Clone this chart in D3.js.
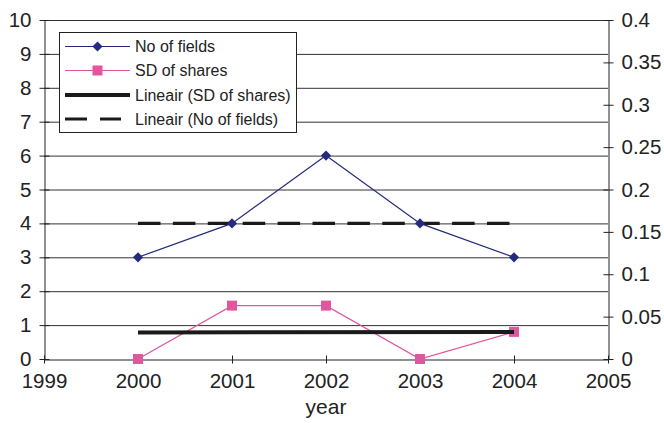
<!DOCTYPE html>
<html>
<head>
<meta charset="utf-8">
<script src="https://cdn.jsdelivr.net/npm/d3@7"></script>
<style>
  html, body { margin: 0; padding: 0; background: #fff; }
  svg { display: block; font-family: "Liberation Sans", Arial, sans-serif; }
</style>
</head>
<body>
<svg id="chart" width="664" height="423"></svg>
<script>
// Years on the x axis
const years = [2000, 2001, 2002, 2003, 2004];
// Number of fields per year (left axis)
const noOfFields = [3, 4, 6, 4, 3];
// Standard deviation of shares per year (right axis)
const sdOfShares = [0, 0.063, 0.063, 0, 0.032];
// Tick values
const xTicks = [1999, 2000, 2001, 2002, 2003, 2004, 2005];
const leftTicks = [0, 1, 2, 3, 4, 5, 6, 7, 8, 9, 10];
const rightTicks = [0, 0.05, 0.1, 0.15, 0.2, 0.25, 0.3, 0.35, 0.4];
// Legend entries
const legendLabels = ["No of fields", "SD of shares", "Lineair (SD of shares)", "Lineair (No of fields)"];

const svg = d3.select("#chart");
const m = { left: 44, right: 608, top: 20, bottom: 359 };

const x = d3.scaleLinear().domain([1999, 2005]).range([m.left, m.right]);
const yL = d3.scaleLinear().domain([0, 10]).range([m.bottom, m.top]);
const yR = d3.scaleLinear().domain([0, 0.4]).range([m.bottom, m.top]);

// Least-squares linear trend
function linFit(xs, ys) {
  const mx = d3.mean(xs), my = d3.mean(ys);
  let sxy = 0, sxx = 0;
  xs.forEach((xv, i) => { sxy += (xv - mx) * (ys[i] - my); sxx += (xv - mx) ** 2; });
  const b = sxy / sxx, a = my - b * mx;
  return xv => a + b * xv;
}

const navy = "#242a7c";
const pink = "#e0569f";
const ink = "#222";

// Horizontal gridlines
svg.append("g").selectAll("line").data(leftTicks.filter(d => d > 0)).join("line")
  .attr("x1", m.left).attr("x2", m.right)
  .attr("y1", d => yL(d) + 0.5).attr("y2", d => yL(d) + 0.5)
  .attr("stroke", "#333").attr("stroke-width", 1);

// Axes
const tickStyle = g => {
  g.select(".domain").attr("stroke", ink);
  g.selectAll(".tick line").attr("stroke", ink);
  g.selectAll(".tick text").attr("fill", ink).attr("font-size", "20.5px");
};

svg.append("g")
  .attr("transform", `translate(${m.left + 0.5},0)`)
  .call(d3.axisLeft(yL).tickValues(leftTicks).tickFormat(d3.format("d")).tickSizeInner(5).tickSizeOuter(0).tickPadding(8))
  .call(tickStyle);

svg.append("g")
  .attr("transform", `translate(${m.right + 0.5},0)`)
  .call(d3.axisRight(yR).tickValues(rightTicks).tickFormat(d => d === 0 ? "0" : String(+d.toFixed(2))).tickSizeInner(5).tickSizeOuter(0).tickPadding(8))
  .call(tickStyle);

svg.append("g")
  .attr("transform", `translate(0,${m.bottom + 0.5})`)
  .call(d3.axisBottom(x).tickValues(xTicks).tickFormat(d3.format("d")).tickSizeInner(4).tickSizeOuter(0).tickPadding(10))
  .call(tickStyle);

// Ticks crossing the axis lines on both sides
svg.selectAll(".tick line").each(function () {
  const l = d3.select(this);
  const x2 = +l.attr("x2") || 0, y2 = +l.attr("y2") || 0;
  l.attr("x1", -x2).attr("y1", -y2);
});

svg.append("text")
  .attr("x", 326).attr("y", 414)
  .attr("text-anchor", "middle").attr("font-size", "21px").attr("fill", ink)
  .text("year");

// Trend lines
const fitFields = linFit(years, noOfFields);
const fitSD = linFit(years, sdOfShares);
const x0 = years[0], x1 = years[years.length - 1];

svg.append("line")
  .attr("x1", x(x0)).attr("x2", x(x1))
  .attr("y1", yL(fitFields(x0))).attr("y2", yL(fitFields(x1)))
  .attr("stroke", "#1a1a1a").attr("stroke-width", 3.2).attr("stroke-dasharray", "22.5,12.4");

// Series: No of fields
svg.append("path")
  .datum(years.map((yr, i) => [x(yr), yL(noOfFields[i])]))
  .attr("d", d3.line()).attr("fill", "none").attr("stroke", navy).attr("stroke-width", 1.2);
svg.append("g").selectAll("path").data(years).join("path")
  .attr("transform", (yr, i) => `translate(${x(yr)},${yL(noOfFields[i])})`)
  .attr("d", d3.symbol(d3.symbolDiamond2, 66))
  .attr("fill", navy);

// Series: SD of shares
svg.append("path")
  .datum(years.map((yr, i) => [x(yr), yR(sdOfShares[i])]))
  .attr("d", d3.line()).attr("fill", "none").attr("stroke", pink).attr("stroke-width", 1.2);
svg.append("g").selectAll("rect").data(years).join("rect")
  .attr("x", (yr) => x(yr) - 5)
  .attr("y", (yr, i) => yR(sdOfShares[i]) - 5)
  .attr("width", 10).attr("height", 10)
  .attr("fill", pink);

svg.append("line")
  .attr("x1", x(x0)).attr("x2", x(x1))
  .attr("y1", yR(fitSD(x0))).attr("y2", yR(fitSD(x1)))
  .attr("stroke", "#1a1a1a").attr("stroke-width", 4);

// Legend
const lg = svg.append("g");
lg.append("rect")
  .attr("x", 59.5).attr("y", 32.5).attr("width", 237).attr("height", 100)
  .attr("fill", "#fff").attr("stroke", ink).attr("stroke-width", 1);

const rowY = [46.5, 70.5, 95, 119];
const sx0 = 65, sx1 = 130;
legendLabels.forEach((lab, i) => {
  const yy = rowY[i];
  const row = lg.append("g");
  if (i === 0) {
    row.append("line").attr("x1", sx0).attr("x2", sx1).attr("y1", yy).attr("y2", yy)
      .attr("stroke", navy).attr("stroke-width", 1.2);
    row.append("path").attr("transform", `translate(${(sx0 + sx1) / 2},${yy})`)
      .attr("d", d3.symbol(d3.symbolDiamond2, 66)).attr("fill", navy);
  } else if (i === 1) {
    row.append("line").attr("x1", sx0).attr("x2", sx1).attr("y1", yy).attr("y2", yy)
      .attr("stroke", pink).attr("stroke-width", 1.2);
    row.append("rect").attr("x", (sx0 + sx1) / 2 - 5).attr("y", yy - 5)
      .attr("width", 10).attr("height", 10).attr("fill", pink);
  } else if (i === 2) {
    row.append("line").attr("x1", sx0).attr("x2", sx1).attr("y1", yy).attr("y2", yy)
      .attr("stroke", "#1a1a1a").attr("stroke-width", 4);
  } else {
    row.append("line").attr("x1", sx0).attr("x2", 121).attr("y1", yy).attr("y2", yy)
      .attr("stroke", "#1a1a1a").attr("stroke-width", 3.2).attr("stroke-dasharray", "22,13");
  }
  row.append("text").attr("x", 135).attr("y", yy + 5.5)
    .attr("font-size", "16px").attr("fill", ink).text(lab);
});
</script>
</body>
</html>
